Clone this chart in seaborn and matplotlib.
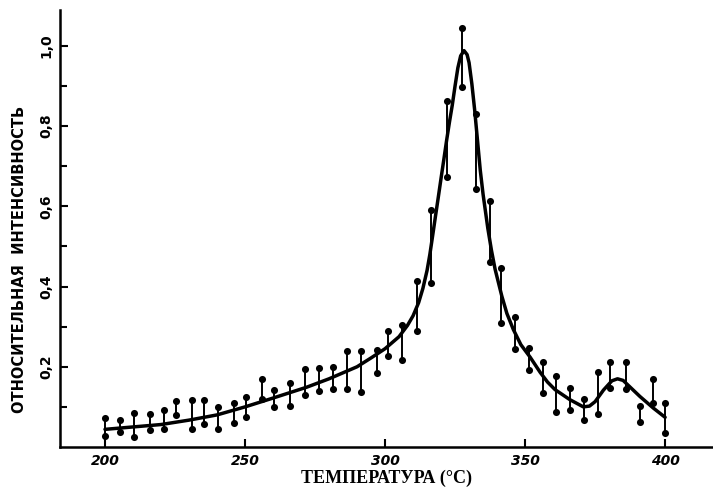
import numpy as np
import pandas as pd
import matplotlib
matplotlib.use("Agg")
import matplotlib.pyplot as plt
import seaborn as sns

# Measured points (temperature, upper and lower reading of each pair)
temps = [200, 205.5, 210.5, 216, 221, 225.5, 231, 235.5, 240.5, 246,
         250.5, 256, 260.5, 266, 271.5, 276.5, 281.5, 286.5, 291.5, 297,
         301, 306, 311.5, 316.5, 322, 327.5, 332.5, 337.5, 341.5, 346.5,
         351.5, 356.5, 361, 366, 371, 376, 380.5, 386, 391, 395.5, 400]
upper = [0.072, 0.067, 0.085, 0.083, 0.092, 0.115, 0.117, 0.117, 0.100, 0.110,
         0.125, 0.170, 0.142, 0.160, 0.195, 0.198, 0.200, 0.240, 0.240, 0.242,
         0.290, 0.305, 0.413, 0.590, 0.863, 1.045, 0.830, 0.613, 0.447, 0.324,
         0.247, 0.212, 0.176, 0.147, 0.119, 0.187, 0.212, 0.212, 0.103, 0.169, 0.109]
lower = [0.028, 0.038, 0.025, 0.042, 0.045, 0.080, 0.045, 0.058, 0.045, 0.060,
         0.075, 0.120, 0.100, 0.102, 0.130, 0.140, 0.145, 0.145, 0.137, 0.185,
         0.228, 0.218, 0.288, 0.410, 0.672, 0.897, 0.643, 0.462, 0.308, 0.244,
         0.191, 0.134, 0.087, 0.091, 0.068, 0.083, 0.147, 0.144, 0.062, 0.109, 0.034]

# Smooth curve
curve_t = [200, 210, 220, 230, 240, 250, 260, 272, 280, 290, 295, 300, 305,
           308, 310, 312, 313.5, 315, 316, 317, 318, 319, 320, 321, 322, 323,
           324, 325, 326, 327, 328.2, 329.3, 330, 331, 332, 333, 334, 335,
           336.7, 338, 339.3, 341.7, 343.5, 345.8, 348.5, 351.8, 355.4, 358,
           360.7, 366, 370.8, 373, 375, 378, 381, 383, 385, 388, 391, 395.8, 400]
curve_v = [0.044, 0.050, 0.056, 0.067, 0.080, 0.100, 0.122, 0.149, 0.170, 0.200,
           0.222, 0.245, 0.275, 0.303, 0.327, 0.360, 0.395, 0.440, 0.480, 0.527,
           0.575, 0.622, 0.670, 0.717, 0.765, 0.810, 0.852, 0.900, 0.945, 0.975,
           0.988, 0.978, 0.958, 0.905, 0.840, 0.765, 0.690, 0.630, 0.545, 0.490,
           0.443, 0.376, 0.333, 0.293, 0.255, 0.224, 0.186, 0.162, 0.143, 0.118,
           0.100, 0.102, 0.113, 0.142, 0.165, 0.170, 0.166, 0.146, 0.126, 0.097, 0.074]

y_ticks = [0.2, 0.4, 0.6, 0.8, 1.0]
y_tick_labels = ["0,2", "0,4", "0,6", "0,8", "1,0"]
x_ticks = [200, 250, 300, 350, 400]
x_tick_labels = ["200", "250", "300", "350", "400"]

sns.set_style("ticks")
plt.rcParams['font.family'] = ['DejaVu Sans']

fig = plt.figure(figsize=(7.13, 4.93), dpi=100)
ax = fig.add_axes([0.084, 0.0933, 0.916, 0.887])

pts = pd.DataFrame({"t": temps + temps, "v": upper + lower})
curve = pd.DataFrame({"t": curve_t, "v": curve_v})

ax.vlines(temps, lower, upper, color="black", lw=1.4, zorder=2)
sns.scatterplot(data=pts, x="t", y="v", ax=ax, color="black", s=26,
                edgecolor="black", linewidth=0, zorder=3, legend=False)
sns.lineplot(data=curve, x="t", y="v", ax=ax, color="black", lw=2.5,
             sort=True, zorder=4, legend=False)

ax.set_xlim(183.9, 417.1)
ax.set_ylim(0, 1.09)

for s in ["top", "right"]:
    ax.spines[s].set_visible(False)
for s in ["left", "bottom"]:
    ax.spines[s].set_linewidth(1.8)
    ax.spines[s].set_color("black")

ax.set_xticks(x_ticks)
ax.set_xticklabels(x_tick_labels, fontsize=10, fontweight="bold", style="italic",
                   color="black")
ax.set_yticks(y_ticks)
ax.set_yticklabels(y_tick_labels, fontsize=10, fontweight="bold", rotation=90,
                   va="center", color="black")
ax.set_yticks([0.1, 0.3, 0.5, 0.7, 0.9], minor=True)
ax.tick_params(axis="both", which="major", direction="in", length=6, width=1.5,
               colors="black")
ax.tick_params(axis="y", which="minor", direction="in", length=5, width=1.5,
               colors="black")
ax.tick_params(axis="x", pad=5)
ax.tick_params(axis="y", pad=5)

ax.set_xlabel("ТЕМПЕРАТУРА (°C)", fontsize=13, fontweight="bold",
              family="Liberation Serif", labelpad=1, color="black")
ax.set_ylabel("ОТНОСИТЕЛЬНАЯ  ИНТЕНСИВНОСТЬ", fontsize=10.5, fontweight="bold",
              labelpad=6, color="black")
ax.yaxis.set_label_coords(-0.05, 0.43)

fig.savefig("out.png", dpi=100)
